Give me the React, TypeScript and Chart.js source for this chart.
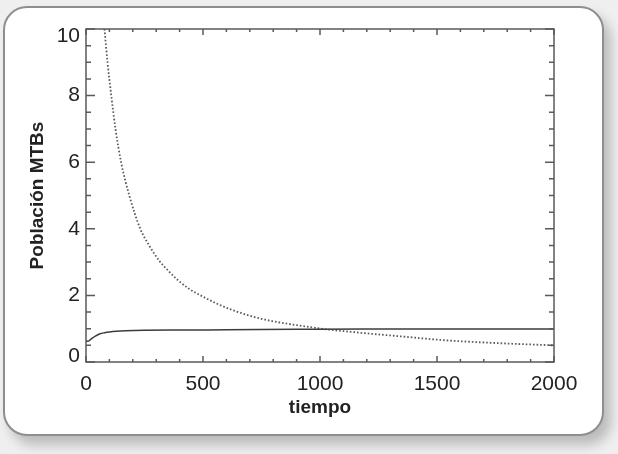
import React, { useEffect, useRef } from "react";
import { Chart, registerables } from "chart.js";

Chart.register(...registerables);

// Solid curve
const solidT = [0, 8, 20, 40, 60, 80, 100, 130, 170, 250, 400, 600, 900, 1200, 2000];
const solidY = [0.64, 0.62, 0.68, 0.78, 0.85, 0.88, 0.9, 0.92, 0.935, 0.95, 0.96, 0.967, 0.98, 0.99, 0.99];

// Dotted curve
const dottedT = [79, 92, 108, 126, 150, 185, 232, 270, 312, 350, 394, 440, 490, 560, 630, 700, 773, 916, 1030, 1200, 1330, 1540, 1750, 2000];
const dottedY = [10, 9, 8, 7, 6, 5, 4, 3.5, 3.05, 2.75, 2.45, 2.2, 2.0, 1.75, 1.55, 1.39, 1.26, 1.09, 0.98, 0.86, 0.78, 0.65, 0.57, 0.5];

const xTickStep = 500;
const yTickStep = 2;
const xMinorStep = 100;
const yMinorStep = 0.5;
const xLabel = "tiempo";
const yLabel = "Población MTBs";

const FONT = "'Liberation Sans', Arial, Helvetica, sans-serif";
const TEXT = "#222";
const FRAME = "#5a5a5a";
const TICK_SIZE = 21;

const framePlugin = {
  id: "idlFrame",
  afterDraw(chart: any) {
    const { ctx, chartArea: a, scales } = chart;
    const xs = scales.x;
    const ys = scales.y;
    ctx.save();
    ctx.strokeStyle = FRAME;
    ctx.lineWidth = 1.5;
    ctx.strokeRect(a.left, a.top, a.right - a.left, a.bottom - a.top);
    ctx.beginPath();
    for (let v = xs.min; v <= xs.max + 1e-6; v += xMinorStep) {
      const px = xs.getPixelForValue(v);
      const major = Math.abs(v % xTickStep) < 1e-6;
      const len = major ? 6 : 3;
      ctx.moveTo(px, a.bottom);
      ctx.lineTo(px, a.bottom - len);
      ctx.moveTo(px, a.top);
      ctx.lineTo(px, a.top + len);
    }
    for (let v = ys.min; v <= ys.max + 1e-6; v += yMinorStep) {
      const py = ys.getPixelForValue(v);
      const major = Math.abs(v % yTickStep) < 1e-6;
      const len = major ? 9 : 5;
      ctx.moveTo(a.left, py);
      ctx.lineTo(a.left + len, py);
      ctx.moveTo(a.right, py);
      ctx.lineTo(a.right - len, py);
    }
    ctx.stroke();
    // end labels of the y axis, kept inside the axis range
    ctx.fillStyle = TEXT;
    ctx.font = `${TICK_SIZE}px ${FONT}`;
    ctx.textAlign = "right";
    ctx.textBaseline = "middle";
    ctx.fillText(String(ys.min), a.left - 6, ys.getPixelForValue(ys.min) - 6);
    ctx.fillText(String(ys.max), a.left - 6, ys.getPixelForValue(ys.max) + 7);
    ctx.restore();
  },
};

export default function App() {
  const ref = useRef<HTMLCanvasElement | null>(null);
  useEffect(() => {
    if (!ref.current) return;
    const chart = new Chart(ref.current, {
      type: "line",
      data: {
        datasets: [
          {
            data: solidT.map((t, i) => ({ x: t, y: solidY[i] })),
            borderColor: "#3c3c3c",
            borderWidth: 1.5,
            pointRadius: 0,
            cubicInterpolationMode: "monotone",
          },
          {
            data: dottedT.map((t, i) => ({ x: t, y: dottedY[i] })),
            borderColor: "#5a5a5a",
            borderWidth: 1.8,
            borderDash: [1.6, 2.0],
            pointRadius: 0,
            cubicInterpolationMode: "monotone",
          },
        ],
      },
      options: {
        animation: false,
        responsive: false,
        devicePixelRatio: 1,
        layout: { padding: { left: 0, right: 64, top: 29, bottom: 0 } },
        plugins: { legend: { display: false }, tooltip: { enabled: false } },
        scales: {
          x: {
            type: "linear",
            min: 0,
            max: 2000,
            grid: { display: false, drawTicks: false },
            border: { display: false },
            ticks: {
              stepSize: xTickStep,
              padding: 10,
              color: TEXT,
              font: { family: FONT, size: TICK_SIZE },
              maxRotation: 0,
              callback: (v: any) => String(v),
            },
            title: { display: true, text: xLabel, color: TEXT, font: { family: FONT, size: 19, weight: "bold" }, padding: { top: 0, bottom: 35 } },
            afterFit(s: any) { s.height = 92; },
          },
          y: {
            type: "linear",
            min: 0,
            max: 10,
            grid: { display: false, drawTicks: false },
            border: { display: false },
            ticks: {
              stepSize: yTickStep,
              padding: 6,
              font: { family: FONT, size: TICK_SIZE },
              callback: (v: any) => String(v),
              color: (c: any) => (c.tick && (c.tick.value === 0 || c.tick.value === 10) ? "rgba(0,0,0,0)" : TEXT),
            },
            title: { display: true, text: yLabel, color: TEXT, font: { family: FONT, size: 19, weight: "bold" }, padding: { top: 26, bottom: 0 } },
            afterFit(s: any) { s.width = 86; },
          },
        },
      },
      plugins: [framePlugin],
    });
    return () => chart.destroy();
  }, []);

  return (
    <div style={{ position: "fixed", left: 0, top: 0, width: 618, height: 454, background: "#efefef", overflow: "hidden" }}>
      <div
        style={{
          position: "absolute",
          left: 3,
          top: 6,
          width: 597,
          height: 426,
          border: "2px solid #8e8e8e",
          borderRadius: 24,
          background: "#fff",
          boxShadow: "7px 9px 12px rgba(0,0,0,0.22)",
        }}
      />
      <canvas ref={ref} width={618} height={454} style={{ position: "absolute", left: 0, top: 0, width: 618, height: 454 }} />
    </div>
  );
}
